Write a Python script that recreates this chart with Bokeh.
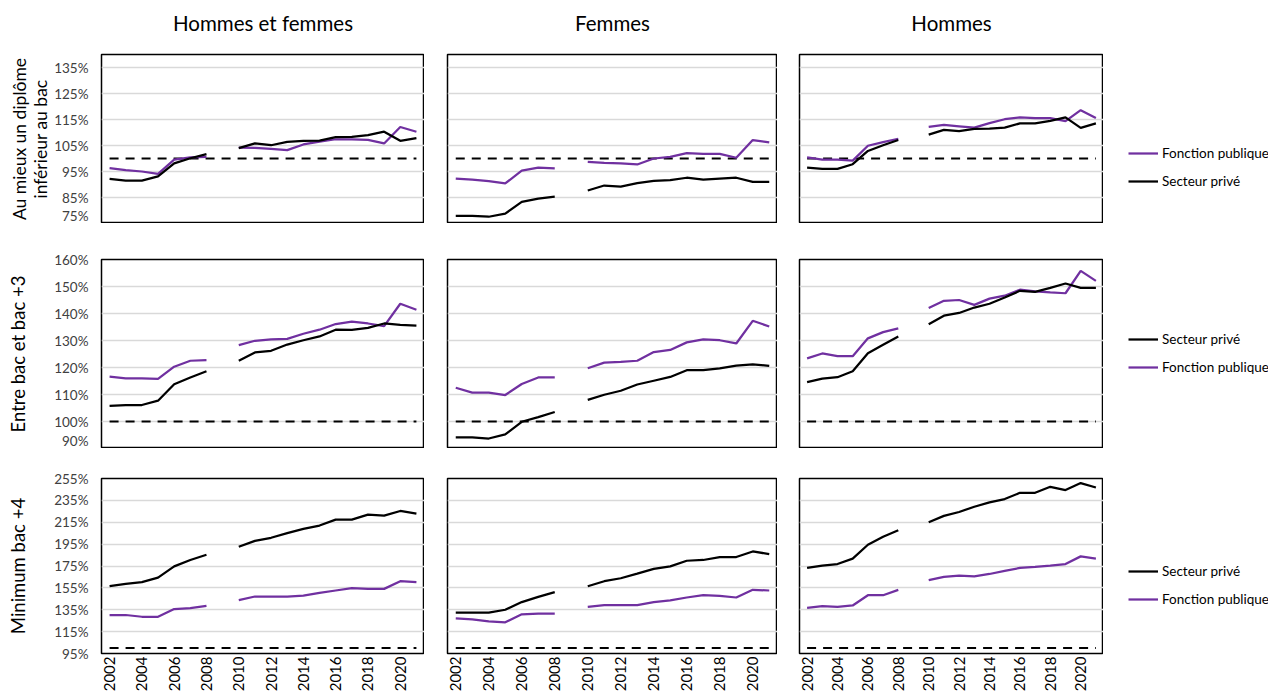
import math
from bokeh.plotting import figure
from bokeh.layouts import column, row
from bokeh.models import (Range1d, FixedTicker, PrintfTickFormatter,
                          Legend, LegendItem, ColumnDataSource)
from bokeh.core.properties import value
from bokeh.embed import file_html
from bokeh.resources import INLINE

nan = float("nan")
FONT = "Lato"
BLACK = "#000000"
PURPLE = "#7030A0"

years = list(range(2002, 2022))
reference = [100] * 20
even_years = [2002, 2004, 2006, 2008, 2010, 2012, 2014, 2016, 2018, 2020]

col_titles = ["Hommes et femmes", "Femmes", "Hommes"]
row_titles = [["Au mieux un diplôme", "inférieur au bac"], ["Entre bac et bac +3"], ["Minimum bac +4"]]
series_names = ["Secteur privé", "Fonction publique"]

# Row 1 : au mieux un diplôme inférieur au bac
hf_inf_prive = [92.2, 91.5, 91.5, 93.1, 98.1, 100.1, 101.7, nan, 104.0, 105.8, 105.1, 106.4, 106.8, 106.9, 108.2, 108.3, 109.0, 110.3, 106.8, 107.8]
hf_inf_fp = [96.3, 95.5, 95.0, 94.1, 99.6, 100.4, 100.6, nan, 104.2, 104.1, 103.7, 103.2, 105.4, 106.5, 107.4, 107.4, 107.2, 105.8, 112.1, 110.3]
f_inf_prive = [77.9, 77.9, 77.6, 78.8, 83.3, 84.6, 85.3, nan, 87.7, 89.6, 89.2, 90.5, 91.4, 91.7, 92.6, 91.9, 92.3, 92.6, 91.0, 91.0]
f_inf_fp = [92.3, 91.9, 91.3, 90.4, 95.3, 96.5, 96.2, nan, 98.7, 98.3, 98.1, 97.7, 100.0, 100.6, 102.1, 101.8, 101.8, 100.3, 107.1, 106.2]
h_inf_prive = [96.5, 96.0, 96.0, 97.8, 102.9, 105.1, 107.1, nan, 109.2, 111.0, 110.5, 111.4, 111.5, 111.9, 113.5, 113.5, 114.5, 115.8, 111.8, 113.5]
h_inf_fp = [100.4, 99.6, 99.6, 99.2, 104.9, 106.3, 107.6, nan, 112.2, 112.9, 112.4, 111.9, 113.6, 115.1, 115.8, 115.5, 115.5, 114.4, 118.6, 115.6]

# Row 2 : entre bac et bac +3
hf_mid_prive = [105.8, 106.1, 106.1, 107.7, 113.8, 116.3, 118.6, nan, 122.5, 125.6, 126.2, 128.5, 130.1, 131.5, 134.0, 133.9, 134.7, 136.3, 135.8, 135.5]
hf_mid_fp = [116.6, 116.0, 116.0, 115.8, 120.3, 122.5, 122.7, nan, 128.3, 129.9, 130.4, 130.6, 132.5, 134.0, 136.1, 137.0, 136.3, 135.3, 143.6, 141.4]
f_mid_prive = [94.1, 94.1, 93.7, 95.2, 99.9, 101.6, 103.5, nan, 108.0, 109.9, 111.4, 113.7, 115.1, 116.5, 119.0, 119.0, 119.7, 120.7, 121.2, 120.6]
f_mid_fp = [112.5, 110.7, 110.7, 109.8, 113.9, 116.3, 116.3, nan, 119.7, 121.8, 122.1, 122.5, 125.7, 126.5, 129.3, 130.4, 130.1, 128.9, 137.3, 135.2]
h_mid_prive = [114.6, 115.9, 116.4, 118.6, 125.3, 128.4, 131.5, nan, 136.0, 139.2, 140.2, 142.2, 143.6, 145.9, 148.4, 148.0, 149.5, 151.1, 149.5, 149.5]
h_mid_fp = [123.4, 125.2, 124.2, 124.2, 130.8, 133.1, 134.5, nan, 142.0, 144.7, 145.0, 143.2, 145.5, 146.6, 148.8, 148.2, 147.8, 147.5, 155.8, 152.1]

# Row 3 : minimum bac +4
hf_sup_prive = [156.5, 158.6, 160.2, 164.4, 174.7, 180.5, 185.3, nan, 192.6, 198.0, 200.8, 205.0, 208.9, 212.0, 217.4, 217.4, 222.0, 221.1, 225.3, 222.9]
hf_sup_fp = [130.2, 130.2, 128.6, 128.6, 135.6, 136.5, 138.6, nan, 143.8, 147.1, 147.1, 147.1, 148.0, 150.5, 152.6, 154.7, 154.1, 154.1, 161.1, 160.2]
f_sup_prive = [132.3, 132.3, 132.3, 135.0, 142.0, 146.8, 151.1, nan, 156.5, 161.1, 163.8, 168.0, 172.3, 174.7, 179.8, 180.5, 183.2, 183.2, 188.3, 185.9]
f_sup_fp = [127.1, 126.2, 124.4, 123.5, 130.8, 131.4, 131.4, nan, 137.7, 139.2, 139.2, 139.2, 142.0, 143.5, 146.2, 148.3, 147.7, 146.2, 153.2, 152.6]
h_sup_prive = [173.2, 175.3, 176.8, 181.7, 194.4, 201.7, 207.7, nan, 215.0, 220.8, 224.4, 229.2, 233.2, 236.2, 241.9, 241.9, 247.4, 244.4, 250.8, 246.8]
h_sup_fp = [136.8, 138.3, 137.7, 138.9, 148.3, 148.3, 153.2, nan, 162.0, 165.0, 166.2, 165.6, 167.7, 170.5, 173.2, 174.1, 175.3, 176.8, 183.8, 181.7]

y_ranges = [(75, 140), (90, 160), (95, 255)]
y_ticks = [list(range(75, 136, 10)), list(range(90, 161, 10)), list(range(95, 256, 20))]

data = [
    [(hf_inf_prive, hf_inf_fp), (f_inf_prive, f_inf_fp), (h_inf_prive, h_inf_fp)],
    [(hf_mid_prive, hf_mid_fp), (f_mid_prive, f_mid_fp), (h_mid_prive, h_mid_fp)],
    [(hf_sup_prive, hf_sup_fp), (f_sup_prive, f_sup_fp), (h_sup_prive, h_sup_fp)],
]

# ---- layout (pixels) ----
LABEL_W = 51
TITLE_H = 40
frame_w = [323, 330, 304]
left_b = [101 - LABEL_W, 23, 22]
frame_h = [169, 189, 175]
top_b = [54 - TITLE_H, 36, 30]
bottom_b = [0, 0, 42]
legend_y = [34, 73, 46]
legend_order = [[1, 0], [0, 1], [0, 1]]
LEGEND_W = 165
label_x = [[19, 40], [17], [17]]
label_size = ["17.5px", "18.5px", "18.5px"]
TOTAL_W = LABEL_W + sum(left_b) + sum(frame_w) + LEGEND_W


def make_titles():
    p = figure(frame_width=TOTAL_W, frame_height=TITLE_H, min_border=0,
               x_range=Range1d(0, TOTAL_W), y_range=Range1d(0, TITLE_H),
               output_backend="svg", toolbar_location=None)
    p.outline_line_color = None
    p.axis.visible = False
    p.grid.grid_line_color = None
    centers = []
    x0 = LABEL_W
    for c in range(3):
        centers.append(x0 + left_b[c] + frame_w[c] / 2)
        x0 += left_b[c] + frame_w[c]
    src = ColumnDataSource(dict(x=centers, y=[TITLE_H - 22] * 3, t=col_titles))
    p.text("x", "y", text="t", source=src, text_align="center",
           text_baseline="middle", text_font=value(FONT),
           text_font_size="20.5px", text_color="#000000")
    return p


def base_fig(r, w, left):
    p = figure(frame_width=w, frame_height=frame_h[r], min_border=0,
               min_border_left=left, min_border_right=0,
               min_border_top=top_b[r], min_border_bottom=bottom_b[r],
               output_backend="svg", toolbar_location=None)
    p.background_fill_color = "white"
    p.border_fill_color = "white"
    return p


def make_label(r):
    p = base_fig(r, LABEL_W, 0)
    p.x_range = Range1d(0, LABEL_W)
    p.y_range = Range1d(0, 1)
    p.outline_line_color = None
    p.axis.visible = False
    p.grid.grid_line_color = None
    src = ColumnDataSource(dict(x=label_x[r], y=[0.5] * len(row_titles[r]),
                                t=row_titles[r]))
    p.text("x", "y", text="t", source=src, angle=math.pi / 2,
           text_align="center", text_baseline="middle",
           text_font=value(FONT), text_font_size=label_size[r],
           text_color="#000000")
    return p


def make_legend(r):
    p = base_fig(r, LEGEND_W, 0)
    p.x_range = Range1d(0, 1)
    p.y_range = Range1d(0, 1)
    p.outline_line_color = None
    p.axis.visible = False
    p.grid.grid_line_color = None
    pr_r = p.line([nan, nan], [nan, nan], line_color=BLACK, line_width=2.25)
    fp_r = p.line([nan, nan], [nan, nan], line_color=PURPLE, line_width=2.25)
    rends = [pr_r, fp_r]
    items = [LegendItem(label=series_names[i], renderers=[rends[i]])
             for i in legend_order[r]]
    leg = Legend(items=items, location=(25, legend_y[r]),
                 orientation="vertical", padding=0, margin=0,
                 spacing=12, glyph_width=30, glyph_height=16,
                 label_height=16, label_standoff=4,
                 label_text_font=FONT, label_text_font_size="13.5px",
                 label_text_color="#000000",
                 border_line_color=None, background_fill_alpha=0)
    p.add_layout(leg)
    return p


def make_panel(r, c):
    prive, fp = data[r][c]
    p = base_fig(r, frame_w[c], left_b[c])
    p.x_range = Range1d(2001.5, 2021.5)
    p.y_range = Range1d(*y_ranges[r])
    p.outline_line_color = "black"
    p.outline_line_width = 1.5
    p.xgrid.grid_line_color = None
    p.ygrid.grid_line_color = "#d9d9d9"
    p.ygrid.grid_line_width = 1.5

    src = ColumnDataSource(dict(x=years, prive=prive, fp=fp, ref=reference))
    p.line("x", "ref", source=src, line_color="black", line_width=2,
           line_dash="9 7")
    p.line("x", "fp", source=src, line_color=PURPLE, line_width=2.25)
    p.line("x", "prive", source=src, line_color=BLACK, line_width=2.25)

    ya = p.yaxis[0]
    ya.ticker = FixedTicker(ticks=y_ticks[r])
    ya.formatter = PrintfTickFormatter(format="%d%%")
    ya.axis_line_color = None
    ya.major_tick_line_color = None
    ya.minor_tick_line_color = None
    ya.major_tick_out = 0
    ya.major_tick_in = 0
    ya.major_label_text_font = FONT
    ya.major_label_text_font_size = "13.5px"
    ya.major_label_text_color = "#404040"
    ya.major_label_standoff = 13
    if c != 0:
        ya.visible = False

    xa = p.xaxis[0]
    xa.ticker = FixedTicker(ticks=even_years)
    xa.axis_line_color = None
    xa.major_tick_line_color = None
    xa.minor_tick_line_color = None
    xa.major_tick_out = 0
    xa.major_tick_in = 0
    xa.major_label_orientation = math.pi / 2
    xa.major_label_text_font = FONT
    xa.major_label_text_font_size = "15px"
    xa.major_label_text_color = "#000000"
    xa.major_label_standoff = 3
    if r != 2:
        xa.visible = False
    return p


rows = [make_titles()]
for r in range(3):
    figs = [make_label(r)] + [make_panel(r, c) for c in range(3)] + [make_legend(r)]
    rows.append(row(*figs, spacing=0))
layout = column(*rows, spacing=0)

open("out.html", "w").write(file_html(layout, INLINE))
